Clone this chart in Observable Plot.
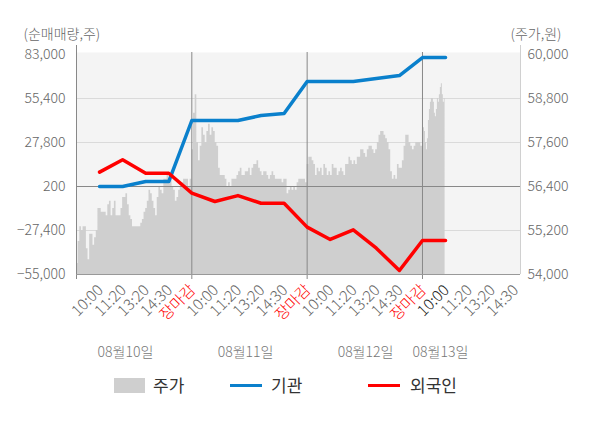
<!DOCTYPE html>
<html><head><meta charset="utf-8">
<script src="https://cdn.jsdelivr.net/npm/d3@7"></script>
<script src="https://cdn.jsdelivr.net/npm/@observablehq/plot@0.6"></script>
<style>
body{margin:0;background:#fff;font-family:"Noto Sans CJK KR","Noto Sans",sans-serif;}
#wrap{position:relative;width:600px;height:428px;overflow:hidden;}
#chart{position:absolute;left:0;top:0;}
.lg{position:absolute;}
.lt{position:absolute;font-size:17px;color:#333;line-height:24px;top:373px;}
</style></head><body>
<div id="wrap"><div id="chart"></div>
<div class="lg" style="left:114px;top:378px;width:31px;height:15px;background:#cfcfcf"></div>
<div class="lt" style="left:153px">주가</div>
<div class="lg" style="left:230px;top:384px;width:32px;height:3px;background:#0a80cc"></div>
<div class="lt" style="left:271px">기관</div>
<div class="lg" style="left:368px;top:384px;width:32px;height:3px;background:#ff0000"></div>
<div class="lt" style="left:410px">외국인</div>
</div>
<script>
const leftTicks = [-55000, -27400, 200, 27800, 55400, 83000];
const priceTicks = [54000, 55200, 56400, 57600, 58800, 60000];
const timeLabels = ["10:00", "11:20", "13:20", "14:30", "장마감"];
const dayLabels = ["08월10일", "08월11일", "08월12일", "08월13일"];
const dayLabelPos = [2.12, 7.33, 12.53, 15.78];
const institution = [200, 200, 3300, 3300, 41600, 41600, 41600, 44700, 46000, 66100, 66100, 66100, 67900, 69800, 81100, 81100];
const foreign = [9200, 17000, 8500, 8500, -4000, -9200, -5500, -10300, -10300, -25300, -33000, -27000, -38500, -52500, -33700, -33700];
const priceDay1 = [54300,54900,55300,55200,55300,55300,54700,54400,55100,55100,
 54800,55000,55200,55800,55800,55700,55700,55700,55600,55900,
 56000,55600,55800,56000,55600,55600,55600,55800,56100,56100,
 56200,55900,55600,55500,55300,55300,55300,55300,55300,55400,
 55500,55700,55800,56000,56300,56200,56000,55800,55600,56100,
 56400,56300,56200,56600,56600,56700,56600,56600,56400,56300,
 56000,56100,56300,56400,56500,56600,56600,56600,56400,56600];
const priceDay2 = [57400,58400,58900,57600,57100,57500,58000,57800,57600,57900,
 58100,57800,58000,57900,57600,57500,56900,56700,56700,56700,
 56600,56400,56500,56400,56600,56600,56600,56700,56800,56900,
 56700,56700,56800,56800,56900,56700,56900,57000,57000,57100,
 56900,56800,56700,56800,56800,56700,56600,56700,56800,56700,
 56600,56600,56600,56600,56500,56600,56600,56200,56300,56400,
 56300,56400,56300,56500,56600,56600,56600,56600,56500];
const priceDay3 = [57000,57200,57200,57100,57000,56700,56900,56800,56900,56700,
 57000,56900,56700,56800,56700,57000,56900,56900,56700,56800,
 56900,56800,56700,57000,57000,57200,57100,57000,57100,57000,
 57200,57200,57400,57400,57300,57200,57400,57500,57500,57400,
 57300,57400,57600,57800,57900,57900,57800,57700,57600,57400,
 56800,56600,56700,56600,57000,56900,56900,57100,57500,57800,
 57800,57600,57500,57400,57500,57600,57600,57600,57500];
const priceDay4 = [57500,58000,57900,57600,57400,57700,58200,58500,58700,58800,
 58800,58700,58400,58300,58500,58800,58700,58900,59100,59200,58900,58700,58800];

const xEnd = 19.25;
const toLeft = d3.scaleLinear([54000, 60000], [-55000, 83000]);

const price = [];
[priceDay1, priceDay2, priceDay3].forEach((arr, d) => {
  arr.forEach((p, k) => price.push({x: 5 * d + k * 5 / arr.length, p}));
});
priceDay4.forEach((p, k) => price.push({x: 15 + k * 0.0431, p}));
price.push({x: 15.98, p: priceDay4[priceDay4.length - 1]});

const instData = institution.map((v, i) => ({x: i + 1, v}));
const forData = foreign.map((v, i) => ({x: i + 1, v}));
const ticks = d3.range(1, 20).map(i => ({
  i, label: timeLabels[(i - 1) % 5],
  color: (i - 1) % 5 === 4 ? "#ff0000" : (i === 16 ? "#222" : "#666")
}));
const fmt = d3.format(",");

const chart = Plot.plot({
  width: 600, height: 370,
  marginTop: 54, marginBottom: 96, marginLeft: 76, marginRight: 80,
  x: {domain: [0, xEnd], axis: null},
  y: {domain: [-55000, 83000], axis: null},
  style: {fontFamily: '"Noto Sans CJK KR","Noto Sans",sans-serif', fontSize: "14px", background: "transparent", overflow: "visible"},
  marks: [
    Plot.frame({fill: "#f4f4f4", stroke: null, insetTop: -2}),
    Plot.ruleY([-27400, 27800, 55400], {stroke: "#dadada", strokeWidth: 1}),
    Plot.areaY(price, {x: "x", y1: -55000, y2: d => toLeft(d.p), fill: "#cfcfcf", curve: "step-after"}),
    Plot.ruleY([200], {stroke: "#888", strokeWidth: 1}),
    Plot.ruleX([5, 10, 15], {stroke: "#888", strokeWidth: 1, insetTop: -2, insetBottom: -5}),
    Plot.ruleX([0], {stroke: "#888", strokeWidth: 1, insetTop: -9, insetBottom: -5}),
    Plot.ruleX([xEnd], {stroke: "#d0d0d0", strokeWidth: 1, insetTop: -9}),
    Plot.ruleY([-55000], {stroke: "#999", strokeWidth: 1}),
    Plot.line(instData, {x: "x", y: "v", stroke: "#0a80cc", strokeWidth: 3.5}),
    Plot.line(forData, {x: "x", y: "v", stroke: "#ff0000", strokeWidth: 3.5}),
    Plot.text(leftTicks, {x: 0, y: d => d, text: d => fmt(d), textAnchor: "end", dx: -11, fill: "#666", fontSize: 14, fontWeight: 300}),
    Plot.text(priceTicks, {x: xEnd, y: d => toLeft(d), text: d => fmt(d), textAnchor: "start", dx: 7, fill: "#666", fontSize: 14, fontWeight: 300}),
    Plot.text(["(순매매량,주)"], {frameAnchor: "top-left", lineAnchor: "middle", dx: -53, dy: -20, textAnchor: "start", fill: "#666", fontSize: 14, fontWeight: 300}),
    Plot.text(["(주가,원)"], {frameAnchor: "top-right", lineAnchor: "middle", dx: -10, dy: -20, textAnchor: "start", fill: "#666", fontSize: 14, fontWeight: 300}),
    Plot.text(ticks, {x: "i", y: -55000, text: "label", rotate: -45, textAnchor: "end", dx: 1, dy: 13, fill: d => d.color, fontSize: 15.5, fontWeight: 300}),
    Plot.text(dayLabels, {x: (d, i) => dayLabelPos[i], y: -55000, text: d => d, dy: 78, fill: "#777", fontSize: 14, fontWeight: 300})
  ]
});
document.getElementById("chart").appendChild(chart);
</script>
</body></html>
